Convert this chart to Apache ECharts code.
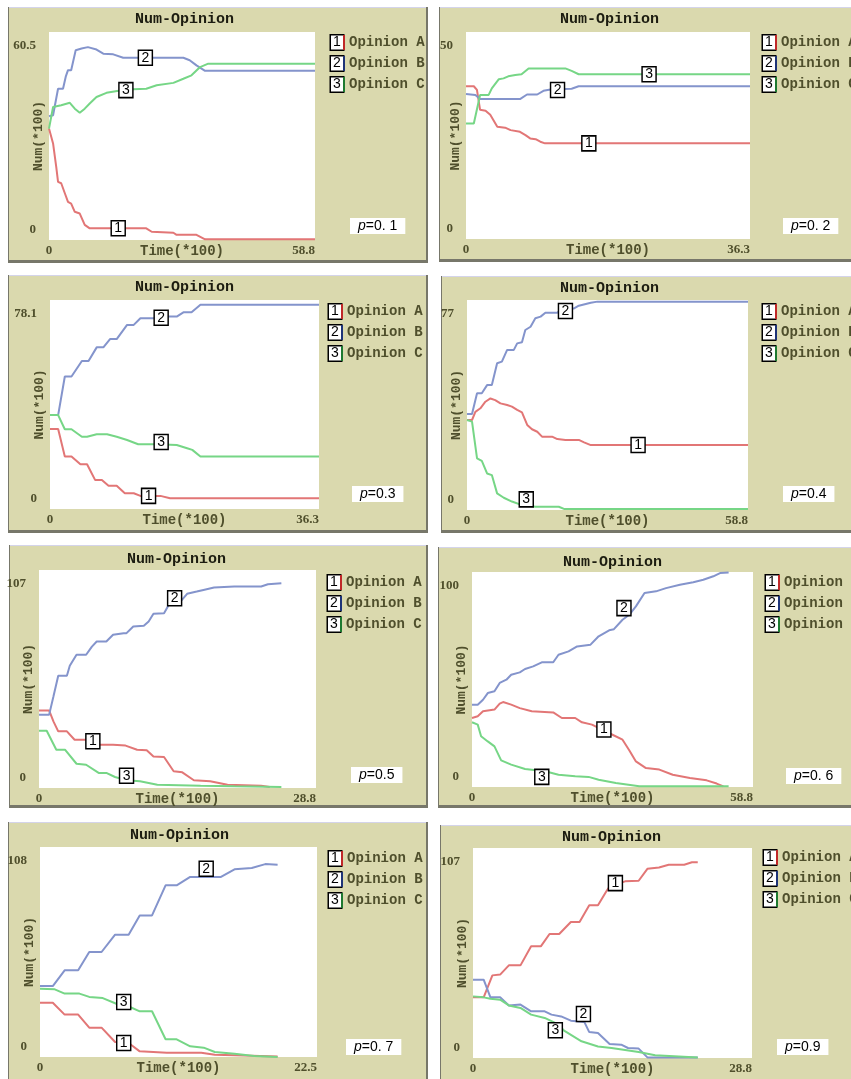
<!DOCTYPE html>
<html>
<head>
<meta charset="utf-8">
<script src="https://cdn.jsdelivr.net/npm/echarts@6/dist/echarts.min.js"></script>
<style>
  html, body { margin: 0; padding: 0; background: #fff; }
  #main { width: 851px; height: 1079px; }
</style>
</head>
<body>
<div id="main"></div>
<script>
// values: [time(*100), num(*100)]
const p1A = [[0,32.4],[0.9,28.1],[1.6,21.3],[2.0,16.9],[2.7,16.5],[3.5,13.6],[4.2,11.1],[4.9,10.6],[5.7,8.2],[6.8,7.7],[7.9,4.4],[9.0,3.4],[21.5,3.4],[22.7,2.4],[27.5,2.1],[28.2,1.5],[32.6,1.5],[34.5,0.2],[58.8,0.2]];
const p1B = [[0,36.0],[0.9,36.3],[2.0,44.0],[3.1,44.0],[3.7,47.5],[4.2,49.4],[4.9,49.4],[5.9,55.2],[7.2,55.7],[8.6,56.1],[10.5,55.4],[12.0,54.2],[14.2,54.0],[16.4,53.0],[29.7,53.0],[31.1,52.3],[32.6,50.8],[34.5,49.2],[58.8,49.2]];
const p1C = [[0,32.4],[0.9,38.7],[2.7,39.2],[4.6,39.9],[5.7,38.2],[6.8,37.0],[7.9,38.2],[9.0,39.7],[10.5,41.6],[12.7,42.8],[17.1,43.8],[21.5,44.0],[23.8,45.0],[27.5,45.7],[29.7,46.9],[31.5,47.9],[33.4,50.3],[35.2,51.3],[58.8,51.3]];

const p2A = [[0,36.9],[1.0,36.9],[1.4,36.0],[1.8,31.2],[2.5,31.0],[3.1,30.0],[4.0,27.1],[5.0,26.9],[5.7,26.3],[6.9,25.9],[7.6,25.1],[8.2,24.3],[8.9,24.1],[9.5,23.5],[10.1,23.1],[36.3,23.1]];
const p2B = [[0,35.0],[1.2,34.8],[1.8,33.8],[6.9,33.8],[7.8,34.9],[9.1,34.9],[9.9,35.8],[10.8,36.1],[13.5,36.3],[14.4,36.9],[36.3,36.9]];
const p2C = [[0,27.9],[1.0,27.9],[1.8,34.8],[2.9,34.8],[3.3,36.4],[4.2,38.6],[4.8,38.8],[5.4,39.3],[6.3,39.6],[7.1,39.8],[8.0,41.2],[12.7,41.2],[13.5,40.6],[14.4,39.8],[36.3,39.8]];

const p3A = [[0,29.9],[1.1,29.9],[2.0,19.6],[2.9,19.6],[4.1,16.7],[5.0,16.7],[6.1,10.8],[7.0,10.8],[7.9,8.7],[9.0,8.7],[10.1,5.9],[11.3,5.9],[12.2,4.9],[14.9,4.9],[16.2,4.0],[36.3,4.0]];
const p3B = [[0,35.1],[1.1,35.1],[2.0,49.5],[2.9,49.5],[4.3,55.3],[5.2,55.3],[6.3,60.4],[7.2,60.4],[8.1,63.5],[9.0,63.5],[10.4,68.8],[11.3,68.8],[12.2,71.3],[14.0,71.3],[14.9,71.9],[17.1,71.9],[18.0,73.5],[19.1,73.5],[20.3,76.3],[36.3,76.3]];
const p3C = [[0,35.1],[1.1,35.1],[2.0,29.8],[2.9,29.8],[4.3,27.0],[5.0,27.0],[6.3,27.9],[7.7,27.9],[9.0,27.0],[10.4,25.8],[11.9,24.2],[14.4,24.2],[17.1,23.9],[18.5,22.7],[19.2,22.1],[20.3,19.6],[36.3,19.6]];

const p4A = [[0,33.0],[1.05,33.0],[1.75,36.0],[2.8,37.3],[3.85,39.7],[4.9,40.9],[5.9,40.3],[7.0,39.1],[8.4,38.5],[9.4,37.9],[10.5,36.7],[11.5,35.8],[12.6,31.2],[13.6,29.6],[14.7,28.7],[15.7,26.9],[17.8,26.9],[18.9,26.0],[20.6,25.7],[23.4,25.7],[24.5,24.8],[25.9,23.8],[58.8,23.8]];
const p4B = [[0,35.2],[1.05,35.2],[2.1,42.8],[3.1,42.8],[4.2,45.8],[5.2,45.8],[6.3,53.8],[7.3,54.4],[8.4,58.7],[9.8,58.7],[10.5,61.1],[11.5,61.5],[12.2,66.0],[13.3,67.2],[14.3,70.3],[15.4,70.9],[16.4,72.3],[18.9,72.3],[19.9,73.9],[22.4,73.9],[23.4,74.9],[25.9,76.0],[27.3,76.4],[58.8,76.4]];
const p4C = [[0,33.0],[1.05,32.4],[2.1,18.9],[3.1,18.0],[4.2,13.4],[5.2,12.8],[6.3,6.1],[7.7,4.5],[9.4,3.1],[11.5,1.8],[14.3,1.2],[19.2,1.2],[20.3,0.4],[58.8,0.4]];

const p5A = [[0,38.1],[1.05,38.1],[1.5,32.7],[2.0,27.8],[2.9,27.8],[3.7,23.7],[4.9,23.7],[6.3,21.2],[7.7,21.2],[9.0,20.8],[10.2,18.8],[11.2,18.5],[11.9,15.5],[13.0,15.2],[14.0,8.2],[14.9,7.7],[16.1,3.8],[17.8,3.3],[19.6,1.6],[23.1,1.1],[24.0,0.5]];
const p5B = [[0,35.9],[1.05,35.9],[1.5,44.9],[2.0,55.1],[2.9,55.1],[3.2,60.0],[3.9,65.4],[4.9,65.4],[5.5,69.4],[6.0,71.9],[7.0,71.9],[7.7,75.2],[8.8,76.0],[9.1,76.0],[9.8,79.3],[10.9,79.6],[11.4,81.7],[11.9,85.5],[13.0,85.8],[13.5,89.9],[14.7,91.5],[15.4,95.3],[16.4,96.4],[17.1,97.2],[18.2,98.4],[20.3,98.9],[23.1,98.9],[23.8,100.0],[25.2,100.5]];
const p5C = [[0,28.1],[0.8,28.1],[1.8,18.8],[2.7,18.8],[3.9,11.9],[4.9,11.4],[6.2,7.4],[7.0,7.4],[7.9,5.4],[9.1,3.8],[10.5,3.3],[12.3,1.6],[16.8,1.1],[20.3,0.8],[25.2,0.5]];

const p6A = [[0,32.1],[1.2,32.9],[2.3,35.2],[4.7,36.0],[5.8,38.8],[6.5,39.5],[8.2,38.3],[10.0,36.7],[12.5,35.2],[17.0,34.7],[18.8,32.1],[21.6,32.1],[23.0,30.1],[25.1,29.0],[29.4,24.3],[31.5,22.0],[32.9,17.1],[34.3,11.9],[36.4,8.8],[39.2,8.1],[42.0,5.7],[45.6,4.2],[49.1,3.1],[51.2,1.6],[52.6,0.3]];
const p6B = [[0,38.3],[1.2,38.3],[2.3,40.6],[3.3,43.7],[4.7,44.5],[5.8,48.4],[7.2,49.9],[8.2,52.2],[10.0,53.3],[11.1,54.9],[12.8,56.1],[14.6,58.0],[17.0,58.0],[18.1,61.5],[20.2,63.1],[22.0,65.4],[24.8,66.2],[26.5,70.1],[28.7,72.9],[29.7,73.4],[31.5,77.8],[32.9,80.1],[34.3,84.0],[36.1,90.2],[38.5,91.0],[40.6,92.5],[43.5,94.1],[46.3,95.2],[48.4,96.4],[50.5,98.0],[51.9,99.5],[53.7,99.8]];
const p6C = [[0,30.1],[1.2,29.0],[1.9,23.6],[3.3,21.2],[4.7,18.9],[6.1,12.4],[8.2,10.4],[11.1,8.4],[15.3,7.3],[18.1,5.7],[21.6,5.0],[24.4,4.7],[26.5,3.4],[30.1,1.9],[35.0,0.3],[53.7,0.3]];

const p7A = [[0,27.9],[1.04,27.9],[2.0,21.8],[3.1,21.8],[4.0,15.1],[5.0,15.1],[6.1,7.7],[7.2,7.2],[8.1,2.9],[10.3,2.2],[13.1,2.2],[14.2,1.2],[15.8,0.9],[19.3,0.2]];
const p7B = [[0,36.5],[1.04,36.5],[2.0,44.6],[3.1,44.6],[4.0,54.0],[5.0,54.0],[6.1,62.9],[7.2,62.9],[8.1,72.8],[9.1,72.8],[10.2,88.3],[11.1,88.3],[12.2,92.6],[14.7,92.6],[15.8,96.5],[17.2,97.2],[18.3,99.2],[19.3,98.9]];
const p7C = [[0,35.1],[1.2,34.8],[2.0,32.6],[3.2,32.6],[4.0,30.9],[5.1,30.3],[6.2,27.4],[7.0,26.6],[8.1,23.5],[9.1,23.5],[10.2,9.1],[11.1,9.1],[12.2,5.5],[13.3,4.8],[14.2,2.6],[15.8,1.7],[17.4,0.5],[19.3,0]];

const p8A = [[0,30.9],[1.1,30.9],[2.0,42.1],[2.8,42.5],[3.7,47.2],[4.9,47.2],[6.0,56.9],[7.0,56.9],[7.9,63.2],[8.9,63.2],[10.1,69.3],[11.0,69.3],[12.0,77.8],[12.9,77.8],[13.8,85.2],[14.1,87.4],[15.7,90.0],[17.1,90.3],[18.0,96.4],[19.2,97.1],[20.2,98.5],[21.8,98.5],[22.6,99.7],[23.2,99.7]];
const p8B = [[0,39.9],[1.1,39.9],[1.8,30.9],[2.8,30.9],[3.7,26.8],[4.9,27.2],[6.0,23.8],[7.4,23.8],[8.1,22.1],[9.1,21.2],[10.1,19.0],[11.5,18.3],[12.0,13.2],[12.9,12.7],[14.1,7.1],[15.3,6.8],[16.0,5.1],[17.1,4.8],[18.0,0.3],[23.2,0.3]];
const p8C = [[0,31.4],[1.1,30.9],[1.8,30.2],[2.8,29.7],[3.7,26.8],[4.9,25.5],[6.0,22.1],[7.4,20.4],[8.75,17.3],[9.4,13.9],[11.2,8.5],[12.9,5.9],[14.3,5.1],[17.1,3.1],[18.8,1.4],[21.25,0.8],[23.2,0.3]];

// axis ends shown on each panel
const timeMax = [58.8, 36.3, 36.3, 58.8, 28.8, 58.8, 22.5, 28.8];
const numMax = [60.5, 50, 78.1, 77, 107, 100, 108, 107];
const pLabels = ['0. 1', '0. 2', '0.3', '0.4', '0.5', '0. 6', '0. 7', '0.9'];
// where the numbered tags sit on lines 1, 2, 3
const tagAt = [
  [[15.3, 3.4], [21.3, 53.0], [17.0, 43.6]],
  [[15.7, 23.1], [11.7, 36.0], [23.4, 39.8]],
  [[13.3, 4.9], [15.0, 71.5], [15.0, 25.0]],
  [[35.8, 23.8], [20.6, 73.0], [12.4, 3.9]],
  [[5.6, 22.9], [14.1, 93.1], [9.1, 6.0]],
  [[27.6, 26.7], [31.8, 83.2], [14.6, 4.7]],
  [[6.8, 7.2], [13.5, 96.8], [6.8, 28.3]],
  [[14.7, 89.1], [11.4, 22.4], [8.5, 14.1]]
];
const seriesNames = ['Opinion A', 'Opinion B', 'Opinion C'];
const panelData = [
  [p1A, p1B, p1C], [p2A, p2B, p2C], [p3A, p3B, p3C], [p4A, p4B, p4C],
  [p5A, p5B, p5C], [p6A, p6B, p6C], [p7A, p7B, p7C], [p8A, p8B, p8C]
];

// page layout of each panel (pixels)
const layout = [
  { frame: [8, 7, 420, 256], grid: [49, 32, 266, 208], title: [185, 21], legend: [325, 34], pBox: [350, 218] },
  { frame: [439, 7, 420, 255], grid: [466, 32, 284, 207], title: [610, 21], legend: [757, 34], pBox: [783, 218] },
  { frame: [8, 275, 420, 258], grid: [50, 300, 269, 209], title: [185, 289], legend: [323, 303], pBox: [352, 486] },
  { frame: [441, 276, 420, 257], grid: [467, 300, 281, 210], title: [610, 290], legend: [757, 303], pBox: [783, 486] },
  { frame: [9, 545, 419, 263], grid: [39, 570, 277, 218], title: [177, 561], legend: [322, 574], pBox: [351, 767] },
  { frame: [438, 547, 420, 261], grid: [472, 572, 281, 215], title: [613, 564], legend: [760, 574], pBox: [786, 768] },
  { frame: [8, 822, 420, 260], grid: [40, 847, 277, 210], title: [180, 837], legend: [323, 850], pBox: [346, 1039] },
  { frame: [440, 825, 420, 260], grid: [473, 848, 279, 210], title: [612, 839], legend: [758, 849], pBox: [777, 1039] }
];

const lineColors = ['#e27676', '#8494cc', '#76d686'];
const barColors = ['#c02828', '#1e3478', '#1e7a30'];
const panelBg = '#dad9ae';
const textOlive = '#4f4f2c';
const mono = 'Liberation Mono';

const chart = echarts.init(document.getElementById('main'));

const grid = [], xAxis = [], yAxis = [], series = [], title = [], legend = [], graphic = [];

layout.forEach(function (L, i) {
  const f = L.frame;
  graphic.push({ type: 'rect', z: -10, shape: { x: f[0], y: f[1], width: f[2], height: f[3] }, style: { fill: '#77776a' } });
  graphic.push({ type: 'rect', z: -9, shape: { x: f[0] + 1, y: f[1], width: f[2] - 3, height: f[3] - 3 }, style: { fill: panelBg } });
  graphic.push({ type: 'rect', z: -9, shape: { x: f[0] + 1, y: f[1], width: f[2] - 3, height: 1 }, style: { fill: '#d4d4ea' } });

  grid.push({
    left: L.grid[0], top: L.grid[1], width: L.grid[2], height: L.grid[3],
    show: true, backgroundColor: '#ffffff', borderWidth: 0,
    containLabel: false, outerBoundsMode: 'none'
  });

  xAxis.push({
    type: 'value', gridIndex: i, min: 0, max: timeMax[i], interval: timeMax[i],
    name: 'Time(*100)', nameLocation: 'middle', nameGap: 4, nameMoveOverlap: false,
    nameTextStyle: { fontFamily: mono, fontWeight: 'bold', fontSize: 14, color: textOlive, verticalAlign: 'top' },
    axisLine: { show: false }, axisTick: { show: false }, splitLine: { show: false },
    axisLabel: {
      margin: 4, fontFamily: 'Liberation Serif', fontWeight: 'bold', fontSize: 13, color: textOlive,
      showMinLabel: true, showMaxLabel: true, alignMaxLabel: 'right'
    }
  });

  yAxis.push({
    type: 'value', gridIndex: i, min: 0, max: numMax[i], interval: numMax[i],
    name: 'Num(*100)', nameLocation: 'middle', nameGap: 4, nameMoveOverlap: false,
    nameTextStyle: { fontFamily: mono, fontWeight: 'bold', fontSize: 13, color: textOlive },
    axisLine: { show: false }, axisTick: { show: false }, splitLine: { show: false },
    axisLabel: {
      margin: 13, showMinLabel: true, showMaxLabel: true,
      formatter: function (v) { return v === 0 ? '{lo|0}' : '{hi|' + v + '}'; },
      rich: {
        lo: { padding: [0, 0, 20, 0], fontFamily: 'Liberation Serif', fontWeight: 'bold', fontSize: 13, color: textOlive },
        hi: { padding: [28, 0, 0, 0], fontFamily: 'Liberation Serif', fontWeight: 'bold', fontSize: 13, color: textOlive }
      }
    }
  });

  panelData[i].forEach(function (d, k) {
    series.push({
      type: 'line', name: seriesNames[k], xAxisIndex: i, yAxisIndex: i,
      data: d, showSymbol: false, silent: true,
      itemStyle: { color: lineColors[k] },
      lineStyle: { width: 2, color: lineColors[k] },
      markPoint: {
        silent: true, symbol: 'rect', symbolSize: [14, 15],
        itemStyle: { color: '#ffffff', borderColor: '#000000', borderWidth: 1.5 },
        label: { show: true, position: 'inside', formatter: String(k + 1), color: '#000', fontSize: 14, fontFamily: 'Liberation Sans' },
        data: [{ coord: tagAt[i][k] }]
      }
    });
  });

  title.push({
    text: 'Num-Opinion', left: L.title[0] - 50, top: L.title[1] - 9, padding: 0,
    textStyle: { fontFamily: mono, fontWeight: 'bold', fontSize: 15, color: '#1c1c10' }
  });
  title.push({
    text: '{i|p}=' + pLabels[i], left: L.pBox[0], top: L.pBox[1], padding: [1, 8, 1, 8],
    backgroundColor: '#ffffff',
    textStyle: {
      fontFamily: 'Liberation Sans', fontSize: 14, fontWeight: 'normal', color: '#000',
      rich: { i: { fontStyle: 'italic', fontWeight: 'normal', fontFamily: 'Liberation Sans', fontSize: 14, color: '#000' } }
    }
  });

  legend.push({
    data: seriesNames, orient: 'vertical', left: L.legend[0], top: L.legend[1],
    itemWidth: 0, itemHeight: 0, itemGap: 4, padding: 0, selectedMode: false,
    formatter: function (name) {
      const k = seriesNames.indexOf(name);
      return '{n|' + (k + 1) + '}{c' + k + '| }{t|' + name + '}';
    },
    textStyle: {
      rich: {
        n: { width: 12, height: 14, lineHeight: 16, align: 'center', backgroundColor: '#ffffff', borderColor: '#000', borderWidth: 1.5, fontFamily: 'Liberation Sans', fontSize: 14, color: '#000' },
        c0: { width: 2, height: 15, backgroundColor: barColors[0] },
        c1: { width: 2, height: 15, backgroundColor: barColors[1] },
        c2: { width: 2, height: 15, backgroundColor: barColors[2] },
        t: { padding: [0, 0, 0, 4], fontFamily: mono, fontWeight: 'bold', fontSize: 14, color: textOlive }
      }
    }
  });
});

chart.setOption({
  animation: false,
  backgroundColor: '#ffffff',
  graphic: graphic,
  title: title,
  legend: legend,
  grid: grid,
  xAxis: xAxis,
  yAxis: yAxis,
  series: series
});
</script>
</body>
</html>
